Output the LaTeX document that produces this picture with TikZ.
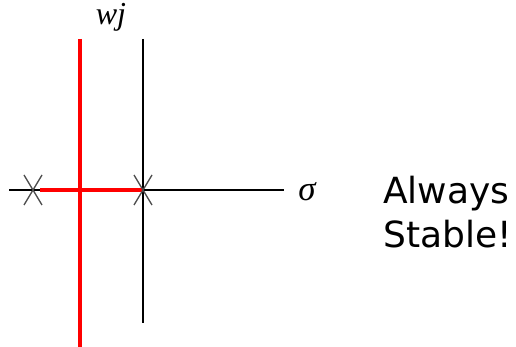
\documentclass[tikz,border=0pt]{standalone}
\usepackage{fontspec}
\setmainfont{DejaVu Sans}
\newfontfamily\axisfont{Liberation Serif}
\begin{document}
\begin{tikzpicture}[
    x=1pt, y=-1pt,
    axis/.style={draw=black, line width=1.2pt},
    locus/.style={draw=red, line width=3.8pt},
    polemark/.style={draw=black!70, line width=1.3pt},
    axlabel/.style={font=\axisfont\itshape\fontsize{32}{36}\selectfont, inner sep=0pt, anchor=base},
    remark/.style={font=\fontsize{36}{44}\selectfont, align=left, inner sep=0pt},
    ]
    \useasboundingbox (0,0) rectangle (516,347);
    % axes
    \coordinate (origin) at (143,190);
    \coordinate (left) at (9,190);
    \coordinate (right) at (284,190);
    \coordinate (top) at (143,39);
    \coordinate (bottom) at (143,323);
    % root locus
    \coordinate (pole1) at (33,190);
    \coordinate (branch) at (80,190);
    \coordinate (asymtop) at (80,39);
    \coordinate (asymbot) at (80,347);
    \draw[axis] (left) -- (right);
    \draw[axis] (top) -- (bottom);
    \draw[locus] (pole1) ++(7,0) -- (origin);
    \draw[locus] (asymtop) -- (asymbot);
    % poles
    \foreach \p in {pole1, origin}{
        \draw[polemark] (\p) ++(-9,-15) -- ++(18,30);
        \draw[polemark] (\p) ++(-9,15) -- ++(18,-30);
    }
    \node[axlabel] (imlabel) at (111,25) {wj};
    \node[axlabel, font=\axisfont\itshape\fontsize{35}{38}\selectfont] (relabel) at (307,201) {σ};
    \node[remark, anchor=north west] (note) at (383,176) {Always\\Stable!};
\end{tikzpicture}
\end{document}
